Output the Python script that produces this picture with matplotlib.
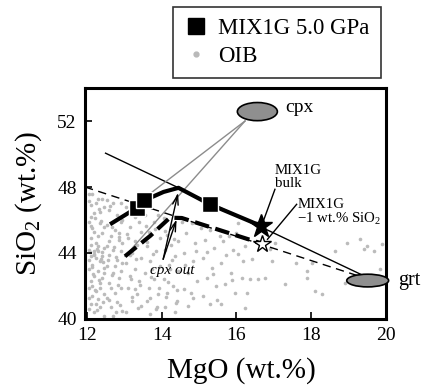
import matplotlib
matplotlib.use("Agg")
import matplotlib.pyplot as plt
from matplotlib.patches import Ellipse
from matplotlib.lines import Line2D

plt.rcParams['font.family'] = ['Liberation Serif', 'DejaVu Serif']
plt.rcParams['mathtext.fontset'] = 'custom'
plt.rcParams['mathtext.rm'] = 'Liberation Serif'
plt.rcParams['mathtext.it'] = 'Liberation Serif:italic'

# OIB compilation (MgO, SiO2 in wt.%)
oib_mgo = [
    12.05, 12.10, 12.30, 12.20, 12.45, 12.05, 12.15, 12.35, 12.40, 12.10, 12.25, 12.05, 12.20, 12.30,
    12.40, 12.45, 12.10, 12.25, 12.35, 12.15, 12.05, 12.30, 12.45, 12.20, 12.10, 12.35, 12.40, 12.05,
    12.25, 12.15, 12.30, 12.45, 12.10, 12.35, 12.20, 12.45, 12.05, 12.30, 12.20, 12.45, 12.10, 12.35,
    12.25, 12.40, 12.15, 12.05, 12.40, 12.20, 12.30, 12.10, 12.45, 12.15, 12.35, 12.25, 12.05,
    12.55, 12.70, 12.90, 12.60, 12.80, 12.95, 12.55, 12.75, 12.65, 12.85, 12.55, 12.70, 12.90, 12.60,
    12.80, 12.95, 12.55, 12.70, 12.85, 12.60, 12.90, 12.75, 12.55, 12.80, 12.65, 12.95, 12.70, 12.60,
    12.85, 12.95, 12.75, 12.65, 12.90,
    13.05, 13.30, 13.15, 13.45, 13.10, 13.35, 13.20, 13.45, 13.05, 13.30, 13.15, 13.40, 13.10, 13.35,
    13.20, 13.45, 13.05, 13.25, 13.40, 13.15, 13.30,
    13.55, 13.80, 13.65, 13.95, 13.60, 13.85, 13.70, 13.95, 13.55, 13.80, 13.65, 13.90, 13.60, 13.85,
    13.70, 13.90, 13.75,
    14.05, 14.30, 14.15, 14.45, 14.10, 14.35, 14.20, 14.45, 14.05, 14.30, 14.15, 14.40, 14.10, 14.35, 14.25,
    14.55, 14.80, 14.65, 14.90, 14.60, 14.85, 14.70, 14.95, 14.60, 14.85, 14.70,
    15.05, 15.30, 15.15, 15.40, 15.10, 15.35, 15.20, 15.45, 15.10, 15.30,
    15.55, 15.80, 15.65, 15.90, 15.60, 15.85, 15.70, 15.95, 15.60,
    16.05, 16.23, 16.41, 16.14, 16.36, 16.59, 16.77, 16.27, 16.23, 16.90, 17.03, 16.94, 17.30, 17.60,
    17.88, 17.90, 18.10, 18.28, 18.02, 18.64, 18.95, 19.31, 19.40, 19.49, 19.67, 19.84, 19.89, 18.90,
    16.05, 16.18, 16.00,
    12.08, 12.18, 12.28, 12.38, 12.12, 12.22, 12.32, 12.42, 12.07, 12.17, 12.27, 12.37, 12.13, 12.23,
    12.33, 12.43, 12.58, 12.68, 12.78, 12.88, 12.62, 12.72, 12.82, 12.92, 12.57, 12.67, 12.77, 12.87,
    13.08, 13.18, 13.28, 13.38, 13.12, 13.22, 13.32, 13.42, 13.58, 13.68, 13.78, 13.88, 13.62, 13.72,
    13.82, 13.92, 14.08, 14.18, 14.28, 14.38, 14.12, 14.22, 14.32, 14.42, 14.62, 14.78, 14.92, 15.22,
    15.38, 15.48, 15.72, 15.88,
]
oib_sio2 = [
    47.60, 46.90, 47.30, 46.40, 46.80, 45.90, 45.50, 45.80, 45.20, 44.90, 44.60, 44.20, 44.10, 44.15,
    44.05, 44.30, 43.80, 43.70, 43.50, 43.30, 43.00, 42.90, 43.10, 42.60, 42.30, 42.20, 42.50, 41.90,
    41.70, 41.40, 41.20, 41.50, 40.90, 40.70, 40.40, 40.20, 40.60, 45.00, 45.30, 45.60, 46.20, 46.50,
    47.00, 47.30, 47.60, 43.60, 43.80, 43.95, 44.40, 44.50, 42.80, 42.00, 41.90, 40.90, 41.30,
    47.20, 47.00, 47.00, 46.60, 46.30, 46.00, 45.70, 45.40, 45.00, 44.80, 44.40, 44.20, 44.10, 43.90,
    43.60, 43.40, 43.20, 42.80, 42.50, 42.20, 41.90, 41.60, 41.30, 41.00, 40.70, 40.50, 40.20, 44.70,
    45.20, 44.60, 43.20, 41.90, 42.90,
    46.80, 46.20, 45.60, 45.30, 44.90, 44.50, 44.00, 43.70, 43.40, 43.00, 42.60, 42.30, 41.90, 41.50,
    41.10, 40.80, 40.40, 46.80, 45.90, 43.90, 41.80,
    46.30, 45.90, 45.30, 44.90, 44.40, 44.10, 43.50, 43.20, 42.80, 42.40, 41.90, 41.50, 41.10, 40.60,
    40.30, 46.30, 43.00,
    46.10, 45.70, 45.10, 44.70, 44.20, 43.80, 43.30, 42.90, 42.40, 42.00, 41.60, 41.10, 40.70, 40.40, 44.50,
    45.90, 45.80, 45.20, 44.60, 44.00, 43.50, 42.80, 42.30, 41.80, 41.30, 40.80,
    45.50, 45.40, 44.80, 44.30, 43.70, 43.10, 42.50, 42.00, 41.40, 40.90,
    45.00, 45.00, 44.70, 44.20, 43.40, 42.80, 42.10, 41.60, 40.90,
    45.84, 44.43, 43.62, 42.51, 42.41, 42.41, 42.51, 41.60, 40.69, 44.23, 44.63, 43.52, 42.10, 43.42,
    42.90, 42.50, 41.70, 41.50, 43.42, 44.13, 44.63, 44.84, 44.23, 44.43, 44.13, 43.02, 44.53, 42.20,
    43.92, 43.52, 45.24,
    44.05, 43.85, 44.25, 43.65, 45.65, 46.15, 42.35, 41.05, 47.15, 42.75, 40.55, 45.95, 43.15, 41.75,
    46.65, 43.45, 41.15, 45.55, 43.75, 40.85, 46.85, 44.35, 42.05, 45.85, 43.55, 42.65, 40.45, 44.95,
    45.15, 42.45, 44.75, 40.65, 46.45, 41.35, 43.65, 42.05, 45.65, 41.25, 43.95, 40.75, 44.65, 42.55,
    45.45, 41.85, 45.35, 42.25, 43.55, 40.95, 41.35, 43.05, 44.85, 41.75, 43.25, 41.55, 44.15, 44.05,
    42.75, 41.15, 43.85, 42.35,
]

# MIX1G 5.0 GPa experiments
exp_mgo = [13.33, 13.53, 15.29]
exp_sio2 = [46.75, 47.21, 46.95]

# Liquid paths
path_bulk_mgo = [12.62, 13.20, 13.33, 13.53, 13.75, 14.05, 14.45, 15.29, 16.66]
path_bulk_sio2 = [45.74, 46.55, 46.75, 47.21, 47.40, 47.70, 47.95, 46.95, 45.64]
path_low_mgo = [13.02, 13.70, 14.22, 14.54, 16.68]
path_low_sio2 = [43.80, 45.05, 46.14, 46.12, 44.57]

# Bulk compositions
bulk_mgo, bulk_sio2 = 16.66, 45.64
low_mgo, low_sio2 = 16.68, 44.57

# Mineral fields
cpx_mgo, cpx_sio2 = 16.56, 52.57
grt_mgo, grt_sio2 = 19.51, 42.33

# Control lines through garnet
ctl_solid_mgo = [12.50, 19.75]
ctl_solid_sio2 = [50.05, 42.25]
ctl_dash_mgo = [11.95, 19.75]
ctl_dash_sio2 = [48.00, 42.25]

# cpx tie lines
tie_mgo = [[16.23, 13.72], [16.23, 13.02]]
tie_sio2 = [[52.00, 47.65], [52.00, 43.80]]

fig = plt.figure(figsize=(4.22, 3.86), dpi=100)
ax = fig.add_axes([0.2014, 0.1736, 0.7133, 0.5984])

ax.plot(oib_mgo, oib_sio2, 'o', color='#bbbbbb', markersize=2.6, markeredgewidth=0, zorder=1)

ax.plot(ctl_solid_mgo, ctl_solid_sio2, '-', color='k', lw=1.0, zorder=2)
ax.plot(ctl_dash_mgo, ctl_dash_sio2, '-', color='k', lw=1.0, dashes=(6, 4), zorder=2)

for xs, ys in zip(tie_mgo, tie_sio2):
    ax.plot(xs, ys, '-', color='#8c8c8c', lw=1.0, zorder=2)

ax.add_patch(Ellipse((cpx_mgo, cpx_sio2), 1.07, 1.1, facecolor='#8f8f8f',
                     edgecolor='k', lw=1.2, zorder=3, clip_on=False))
ax.add_patch(Ellipse((grt_mgo, grt_sio2), 1.12, 0.77, facecolor='#8f8f8f',
                     edgecolor='k', lw=1.2, zorder=3, clip_on=False))

ax.plot(path_bulk_mgo, path_bulk_sio2, '-', color='k', lw=3.0, zorder=4,
        solid_capstyle='butt')
ax.plot(path_low_mgo, path_low_sio2, '-', color='k', lw=3.0, dashes=(3.5, 1.6), zorder=4)

ax.plot(exp_mgo, exp_sio2, 's', color='k', markersize=11, markeredgecolor='white',
        markeredgewidth=1.0, zorder=5)

ax.plot([bulk_mgo], [bulk_sio2], '*', color='k', markersize=17, zorder=6)
ax.plot([low_mgo], [low_sio2], '*', markerfacecolor='white', markeredgecolor='k',
        markersize=13, markeredgewidth=1.0, zorder=6)

# cpx-out arrows
arrow_start = (14.04, 43.62)
for tip in [(14.44, 47.66), (14.40, 46.04)]:
    ax.annotate('', xy=tip, xytext=arrow_start,
                arrowprops=dict(arrowstyle='->,head_length=0.7,head_width=0.2',
                                color='k', lw=1.0, shrinkA=0, shrinkB=0), zorder=7)
ax.text(14.29, 42.95, 'cpx out', style='italic', fontsize=11, ha='center', va='center')

# labels for bulk compositions
ax.text(17.03, 48.6, 'MIX1G\nbulk', fontsize=10.7, ha='left', va='center', linespacing=0.95)
ax.plot([17.03, 16.72], [47.86, 45.94], '-', color='k', lw=1.0, zorder=6)
ax.text(17.63, 46.45, 'MIX1G\n\u22121 wt.% SiO$_2$', fontsize=10.7, ha='left', va='center',
        linespacing=0.95)
ax.plot([17.61, 16.83], [46.95, 44.83], '-', color='k', lw=1.0, zorder=6)

ax.text(17.3, 52.8, 'cpx', fontsize=14, ha='left', va='center')
ax.text(20.33, 42.35, 'grt', fontsize=14.5, ha='left', va='center', clip_on=False)

ax.set_xlim(11.95, 20.0)
ax.set_ylim(40, 54)
ax.set_xticks([12, 14, 16, 18, 20])
ax.set_yticks([40, 44, 48, 52])
ax.tick_params(direction='in', length=5, width=1.2, labelsize=14, pad=6)
for s in ax.spines.values():
    s.set_linewidth(2.2)

ax.set_xlabel('MgO (wt.%)', fontsize=21)
ax.set_ylabel('SiO$_2$ (wt.%)', fontsize=21)
ax.xaxis.set_label_coords(0.52, -0.165)
ax.yaxis.set_label_coords(-0.135, 0.5)

handles = [
    Line2D([], [], marker='s', color='k', ls='none', markersize=12),
    Line2D([], [], marker='o', color='#b9b9b9', ls='none', markersize=3.5),
]
leg = fig.legend(handles, ['MIX1G 5.0 GPa', 'OIB'], loc='upper left',
                 bbox_to_anchor=(0.409, 0.983), fontsize=16.5, frameon=True,
                 fancybox=False, edgecolor='k', borderpad=0.5, handlelength=1.0,
                 handletextpad=0.5, labelspacing=0.3, borderaxespad=0)
leg.get_frame().set_linewidth(1.2)

fig.savefig('out.png', dpi=100)
